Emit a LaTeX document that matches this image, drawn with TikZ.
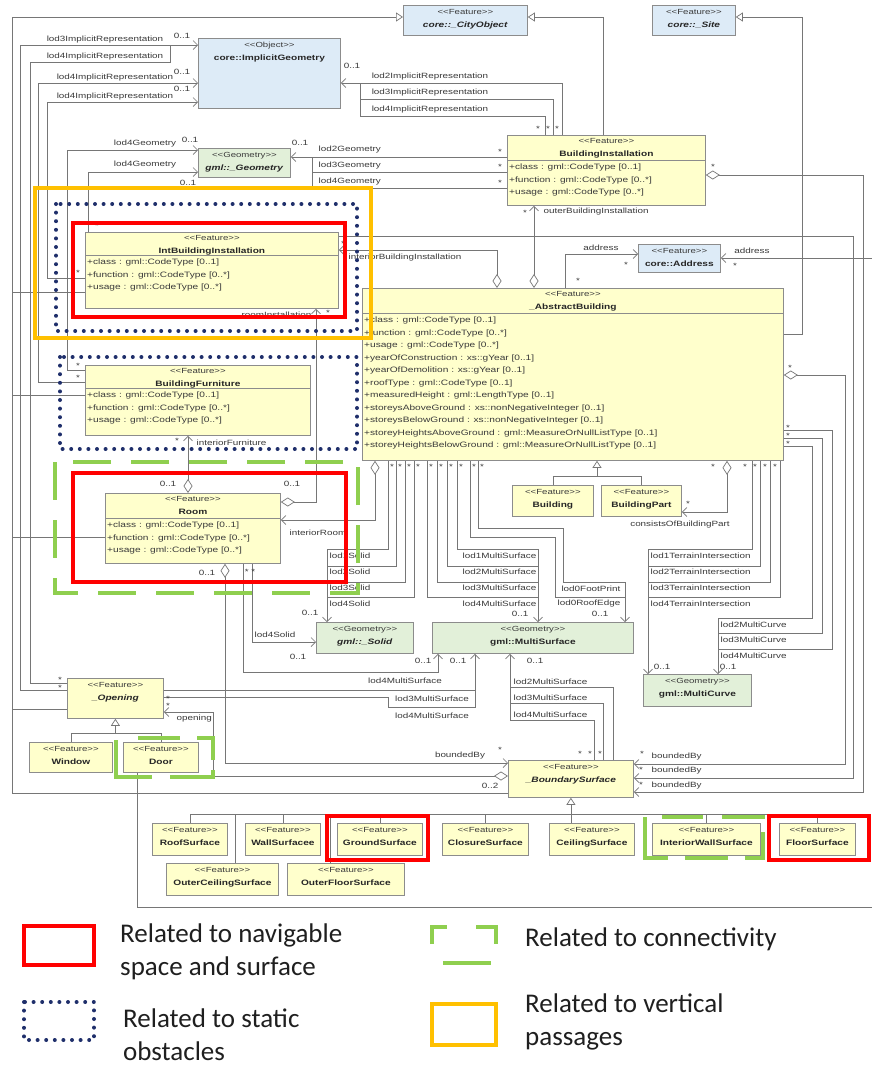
\documentclass[tikz,border=0pt]{standalone}
\usepackage{fontspec}
\setmainfont{Liberation Sans}
\newfontfamily\umlfont[FakeStretch=1.3]{Liberation Sans}
\newfontfamily\legfont{Carlito}
\usetikzlibrary{arrows.meta}
\definecolor{cyel}{HTML}{FFFFCC}
\definecolor{cblue}{HTML}{DDEBF7}
\definecolor{cgreen}{HTML}{E2F0D9}
\definecolor{cbord}{HTML}{8C8C8C}
\definecolor{cline}{HTML}{767676}
\definecolor{ctext}{HTML}{3A3A3A}
\definecolor{hred}{HTML}{FF0000}
\definecolor{hblue}{HTML}{1F2F6B}
\definecolor{hgreen}{HTML}{8FCF4F}
\definecolor{horange}{HTML}{FFC000}
\newcommand\stereo[1]{<\kern0pt<#1>\kern0pt>}
\newcommand\umlsimple[8]{%
  \node[clsbox, fill=#6, minimum width=#4pt, minimum height=#5pt, anchor=north west] (#1) at (#2,#3) {};
  \node[stxt, anchor=base] (#1-s) at ([yshift=-9.5pt]#1.north) {\stereo{#7}};
  \node[ttxt, anchor=base] (#1-t) at ([yshift=-22.5pt]#1.north) {#8};}
\newcommand\umlattr[9]{%
  \node[clsbox, fill=cyel, minimum width=#4pt, minimum height=#5pt, anchor=north west] (#1) at (#2,#3) {};
  \node[stxt, anchor=base] (#1-s) at ([yshift=-8.5pt]#1.north) {\stereo{#6}};
  \node[ttxt, anchor=base] (#1-t) at ([yshift=-21.5pt]#1.north) {#7};
  \draw[draw=cbord, line width=0.8pt] ([yshift=-#8pt]#1.north west) -- ([yshift=-#8pt]#1.north east);
  \node[atxt, anchor=north west] (#1-a) at ([xshift=2pt,yshift=-#8pt-4pt]#1.north west) {#9};}
\tikzset{
  clsbox/.style={draw=cbord, line width=0.8pt, inner sep=0pt, rectangle},
  stxt/.style={font=\umlfont\fontsize{7.4}{8}\selectfont, text=ctext, inner sep=0pt},
  ttxt/.style={font=\umlfont\bfseries\fontsize{7.8}{9}\selectfont, text=black!85, inner sep=0pt},
  atxt/.style={font=\umlfont\fontsize{7.8}{12.5}\selectfont, text=ctext, inner sep=0pt, align=left},
  lbl/.style={font=\umlfont\fontsize{7.6}{9}\selectfont, text=ctext, inner sep=0.5pt},
  conn/.style={draw=cline, line width=0.7pt},
  assoc/.style={conn, -{Straight Barb[length=4.5pt,width=9pt]}},
  gen/.style={conn, -{Triangle[open,length=7pt,width=9pt,fill=white]}},
  agg/.style={conn, {Diamond[open,length=14pt,width=9pt,fill=white]}-{Straight Barb[length=4.5pt,width=9pt]}},
  hlred/.style={draw=hred, line width=4.5pt},
  hlorange/.style={draw=horange, line width=4.5pt},
  hlblue/.style={draw=hblue, line width=4pt, line cap=round, dash pattern=on 0pt off 8.6pt},
  hlgreen/.style={draw=hgreen, line width=4pt, dash pattern=on 38pt off 20pt},
  hgseg/.style={draw=hgreen, line width=4pt},
  legtxt/.style={font=\legfont\fontsize{27}{33}\selectfont, text=black!88, inner sep=0pt, align=left},
}
\begin{document}
\begin{tikzpicture}[x=1pt,y=-1pt]
\useasboundingbox (0,0) rectangle (872,1066);
\fill[white] (0,0) rectangle (872,1066);

% ---------------- classes ----------------
\umlsimple{co}{403}{5}{124}{30}{cblue}{Feature}{\textit{core::\_CityObject}}
\umlsimple{site}{652}{5}{83}{30}{cblue}{Feature}{\textit{core::\_Site}}
\umlsimple{ig}{198}{38}{142}{70}{cblue}{Object}{core::ImplicitGeometry}
\umlsimple{geo}{198}{148}{92}{29}{cgreen}{Geometry}{\textit{gml::\_Geometry}}
\umlsimple{addr}{638}{244}{82}{28}{cblue}{Feature}{core::Address}
\umlsimple{bld}{512}{485}{81}{31}{cyel}{Feature}{Building}
\umlsimple{bp}{601}{485}{80}{31}{cyel}{Feature}{BuildingPart}
\umlsimple{sol}{316}{622}{97}{31}{cgreen}{Geometry}{\textit{gml::\_Solid}}
\umlsimple{ms}{432}{622}{201}{31}{cgreen}{Geometry}{gml::MultiSurface}
\umlsimple{mc}{643}{674}{108}{32}{cgreen}{Geometry}{gml::MultiCurve}
\umlsimple{op}{67}{678}{96}{40}{cyel}{Feature}{\textit{\_Opening}}
\umlsimple{win}{29}{742}{83}{30}{cyel}{Feature}{Window}
\umlsimple{door}{123}{742}{75}{30}{cyel}{Feature}{Door}
\umlsimple{bs}{508}{760}{125}{37}{cyel}{Feature}{\textit{\_BoundarySurface}}
\umlsimple{roof}{152}{823}{75}{32}{cyel}{Feature}{RoofSurface}
\umlsimple{wall}{245}{823}{75}{32}{cyel}{Feature}{WallSurfacee}
\umlsimple{ground}{337}{823}{85}{32}{cyel}{Feature}{GroundSurface}
\umlsimple{clos}{442}{823}{86}{32}{cyel}{Feature}{ClosureSurface}
\umlsimple{ceil}{549}{823}{85}{32}{cyel}{Feature}{CeilingSurface}
\umlsimple{iws}{652}{823}{108}{32}{cyel}{Feature}{InteriorWallSurface}
\umlsimple{floor}{779}{823}{76}{32}{cyel}{Feature}{FloorSurface}
\umlsimple{ocs}{166}{863}{112}{32}{cyel}{Feature}{OuterCeilingSurface}
\umlsimple{ofs}{287}{863}{117}{32}{cyel}{Feature}{OuterFloorSurface}

\umlattr{bi}{507}{135}{198}{70}{Feature}{BuildingInstallation}{25}{+class : gml::CodeType [0..1]\\+function : gml::CodeType [0..*]\\+usage : gml::CodeType [0..*]}
\umlattr{ibi}{85}{232}{253}{76}{Feature}{IntBuildingInstallation}{23}{+class : gml::CodeType [0..1]\\+function : gml::CodeType [0..*]\\+usage : gml::CodeType [0..*]}
\umlattr{bf}{85}{365}{225}{70}{Feature}{BuildingFurniture}{23}{+class : gml::CodeType [0..1]\\+function : gml::CodeType [0..*]\\+usage : gml::CodeType [0..*]}
\umlattr{room}{105}{493}{175}{70}{Feature}{Room}{25}{+class : gml::CodeType [0..1]\\+function : gml::CodeType [0..*]\\+usage : gml::CodeType [0..*]}
\umlattr{ab}{362}{288}{421}{172}{Feature}{\_AbstractBuilding}{25}{\fontsize{7.8}{12.1}\selectfont
+class : gml::CodeType [0..1]\\+function : gml::CodeType [0..*]\\+usage : gml::CodeType [0..*]\\
+yearOfConstruction : xs::gYear [0..1]\\+yearOfDemolition : xs::gYear [0..1]\\
+roofType : gml::CodeType [0..1]\\+measuredHeight : gml::LengthType [0..1]\\
+storeysAboveGround : xs::nonNegativeInteger [0..1]\\+storeysBelowGround : xs::nonNegativeInteger [0..1]\\
+storeyHeightsAboveGround : gml::MeasureOrNullListType [0..1]\\+storeyHeightsBelowGround : gml::MeasureOrNullListType [0..1]}

\coordinate (addrext) at (872,258);
\coordinate (doorext) at (872,907);

% ---------------- generalizations ----------------
\draw[gen] (bs.west |- 0,793) -- (12,793) -- (12,17) -- (co.west |- 0,17);
\draw[conn] (ibi.west |- 0,292) -- (12,292);
\draw[conn] (bf.west |- 0,395) -- (12,395);
\draw[conn] (room.west |- 0,537) -- (12,537);
\draw[conn] (op.west |- 0,709) -- (12,709);
\draw[gen] (bi.north -| 603,0) -- (603,17) -- (co.east |- 0,17);
\draw[gen] (ab.east |- 0,334) -- (802,334) -- (802,17) -- (site.east |- 0,17);
\draw[conn] (bld.north) |- (bp.north |- 0,476) -- (bp.north);
\draw[gen] (bld.north |- 0,476) -| (ab.south -| 597,0);
\draw[conn] (win.north) |- (door.north |- 0,733) -- (door.north);
\draw[gen] (win.north |- 0,733) -| (op.south);
\draw[conn] (roof.north) |- (floor.north |- 0,814) -- (floor.north);
\foreach \n in {wall,ground,clos,iws} \draw[conn] (\n.north) -- (\n.north |- 0,814);
\draw[gen] (ceil.north -| bs.south) -- (bs.south);
\draw[conn] (ocs.north -| 235,0) -- (235,814);
\draw[conn] (ofs.north -| 330,0) -- (330,814);

% ---------------- implicit geometry ----------------
\draw[assoc] (op.west |- 0,690) -- (20,690) -- (20,45) -- (ig.west |- 0,45);
\draw[conn] (op.west |- 0,683) -- (30,683) -- (30,62) -- (170,62) -- (170,45);
\draw[assoc] (bf.west |- 0,382) -- (38,382) -- (38,83) -- (ig.west |- 0,83);
\draw[assoc] (ibi.west |- 0,278) -- (47,278) -- (47,102) -- (ig.west |- 0,102);
\draw[assoc] (bi.north -| 562,0) -- (562,83) -- (ig.east |- 0,83);
\draw[conn] (bi.north -| 553,0) -- (553,99) -- (360,99) -- (360,83);
\draw[conn] (bi.north -| 545,0) -- (545,116) -- (360,116) -- (360,99);

% ---------------- geometry ----------------
\draw[assoc] (bf.west |- 0,370) -- (67,370) -- (67,150) -- (geo.west |- 0,150);
\draw[assoc] (ibi.north -| 88,0) -- (88,172) -- (geo.west |- 0,172);
\draw[assoc] (bi.west |- 0,157) -- (geo.east |- 0,157);
\draw[conn] (bi.west |- 0,172) -- (312,172) -- (312,157);
\draw[conn] (bi.west |- 0,188) -- (312,188) -- (312,172);

% ---------------- installations, address ----------------
\draw[agg] (ab.north -| 534,0) -- (bi.south -| 534,0);
\draw[agg] (ab.north -| 497,0) -- (497,250) -- (ibi.east |- 0,250);
\draw[assoc] (ab.north -| 565,0) -- (565,254) -- (addr.west |- 0,254);
\draw[assoc] (addrext) -- (addr.east |- 0,258);

% ---------------- boundedBy (right) ----------------
\draw[agg] (ab.east |- 0,375) -- (845,375) -- (845,764) -- (bs.east |- 0,764);
\draw[assoc] (ibi.east |- 0,236) -- (853,236) -- (853,778) -- (bs.east |- 0,778);
\draw[agg] (bi.east |- 0,175) -- (863,175) -- (863,792) -- (bs.east |- 0,792);

% ---------------- room ----------------
\draw[agg] (room.north -| 188,0) -- (bf.south -| 188,0);
\draw[agg] (room.east |- 0,502) -- (316,502) -- (ibi.south -| 316,0);
\draw[agg] (ab.south -| 375,0) -- (375,520) -- (room.east |- 0,520);
\draw[agg] (room.south -| 225,0) -- (225,763) -- (bs.west |- 0,763);
\draw[assoc] (room.south -| 252,0) -- (252,642) -- (sol.west |- 0,642);
\draw[assoc] (room.south -| 243,0) -- (243,672) -- (438,672) -- (ms.south -| 438,0);

% ---------------- opening ----------------
\draw[assoc] (op.east |- 0,690) -- (475,690) -- (ms.south -| 475,0);
\draw[conn] (op.east |- 0,697) -- (388,697) -- (388,707) -- (475,707) -- (475,690);
\draw[agg] (bs.west |- 0,776) -- (213,776) -- (213,712) -- (op.east |- 0,712);
\draw[conn] (door.south -| 137,0) |- (doorext);

% ---------------- abstract building geometry ----------------
\draw[assoc] (ab.south -| 388,0) |- (327,549) -- (sol.north -| 327,0);
\foreach \x/\y in {396/566,405/582,414/597} \draw[conn] (ab.south -| \x,0) |- (327,\y);
\draw[assoc] (ab.south -| 457,0) |- (538,549) -- (ms.north -| 538,0);
\foreach \x/\y in {447/566,437/582,427/597} \draw[conn] (ab.south -| \x,0) |- (538,\y);
\draw[assoc] (ab.south -| 478,0) |- (563,528) |- (625,582) -- (ms.north -| 625,0);
\draw[conn] (ab.south -| 470,0) |- (555,537) |- (625,597);
\draw[assoc] (ab.south -| 752,0) |- (648,549) -- (mc.north -| 648,0);
\foreach \x/\y in {760/566,770/582,780/597} \draw[conn] (ab.south -| \x,0) |- (648,\y);
\draw[assoc] (ab.east |- 0,446) -| (812,618) -| (mc.north -| 718,0);
\draw[conn] (ab.east |- 0,438) -| (822,633) -- (718,633);
\draw[conn] (ab.east |- 0,430) -| (832,649) -- (718,649);
\draw[agg] (ab.south -| 727,0) |- (bp.east |- 0,512);

% ---------------- boundary surface multisurface ----------------
\draw[assoc] (bs.north -| 594,0) |- (510,720) -- (ms.south -| 510,0);
\draw[conn] (bs.north -| 603,0) |- (510,703);
\draw[conn] (bs.north -| 613,0) |- (510,687);

% ---------------- labels ----------------
\node[lbl] (l1) at (105,40) {lod3ImplicitRepresentation};
\node[lbl] (l2) at (105,57) {lod4ImplicitRepresentation};
\node[lbl] (l3) at (115,78) {lod4ImplicitRepresentation};
\node[lbl] (l4) at (115,97) {lod4ImplicitRepresentation};
\node[lbl] (l5) at (430,77) {lod2ImplicitRepresentation};
\node[lbl] (l6) at (430,93) {lod3ImplicitRepresentation};
\node[lbl] (l7) at (430,110) {lod4ImplicitRepresentation};
\node[lbl] (l8) at (145,144) {lod4Geometry};
\node[lbl] (l9) at (145,165) {lod4Geometry};
\node[lbl,anchor=west] (l10) at (318,150) {lod2Geometry};
\node[lbl,anchor=west] (l11) at (318,166) {lod3Geometry};
\node[lbl,anchor=west] (l12) at (318,182) {lod4Geometry};
\node[lbl,anchor=west] (l13) at (543,212) {outerBuildingInstallation};
\node[lbl,anchor=west] (l14) at (348,258) {interiorBuildingInstallation};
\node[lbl] (l15) at (601,248) {address};
\node[lbl] (l16) at (752,251) {address};
\node[lbl,anchor=east] (l17) at (312,315) {roomInstallation};
\node[lbl,anchor=west] (l18) at (196,443) {interiorFurniture};
\node[lbl] (l19) at (318,533) {interiorRoom};
\foreach \t/\y [count=\i] in {lod1Solid/556,lod2Solid/572,lod3Solid/588,lod4Solid/604}
  \node[lbl,anchor=west] (ls\i) at (329,\y) {\t};
\foreach \t/\y [count=\i] in {lod1MultiSurface/556,lod2MultiSurface/572,lod3MultiSurface/588,lod4MultiSurface/604}
  \node[lbl,anchor=east] (lm\i) at (537,\y) {\t};
\foreach \t/\y [count=\i] in {lod1TerrainIntersection/556,lod2TerrainIntersection/572,lod3TerrainIntersection/588,lod4TerrainIntersection/604}
  \node[lbl,anchor=west] (lt\i) at (650,\y) {\t};
\node[lbl,anchor=east] (l20) at (621,589) {lod0FootPrint};
\node[lbl,anchor=east] (l21) at (621,604) {lod0RoofEdge};
\node[lbl] (l22) at (680,525) {consistsOfBuildingPart};
\foreach \t/\y [count=\i] in {lod2MultiCurve/625,lod3MultiCurve/640,lod4MultiCurve/656}
  \node[lbl,anchor=west] (lc\i) at (720,\y) {\t};
\node[lbl] (l23) at (275,635) {lod4Solid};
\node[lbl] (l24) at (405,681) {lod4MultiSurface};
\node[lbl] (l25) at (432,699) {lod3MultiSurface};
\node[lbl] (l26) at (432,716) {lod4MultiSurface};
\foreach \t/\y [count=\i] in {lod2MultiSurface/682,lod3MultiSurface/698,lod4MultiSurface/715}
  \node[lbl,anchor=west] (lb\i) at (513,\y) {\t};
\node[lbl,anchor=west] (l27) at (176,719) {opening};
\node[lbl] (l28) at (460,756) {boundedBy};
\foreach \y [count=\i] in {757,771,786}
  \node[lbl,anchor=west] (lr\i) at (651,\y) {boundedBy};

% multiplicities
\foreach \x/\y [count=\i] in {182/36,182/72,182/89,352/66,190/140,188/183,300/143,168/484,292/484,207/573,310/613,298/657,520/614,600/614,423/661,458/661,535/661,662/667,728/667}
  \node[lbl] (mu\i) at (\x,\y) {0..1};
\node[lbl] (mu20) at (490,786) {0..2};
\node[lbl] (mu21) at (250,572) {* *};
\foreach \x/\y [count=\i] in {538/129,548/129,557/129,500/152,500/167,500/183,525/213,343/244,578/281,626/265,735/266,713/167,790/368,788/428,788/436,788/444,97/226,78/273,78/366,78/378,60/680,60/688,168/699,168/706,177/441,328/313,688/504,713/467,500/750,642/754,641/770,641/785,580/754,590/754,600/754,392/467,400/467,409/467,418/467,431/467,441/467,451/467,461/467,474/467,482/467,745/467,755/467,765/467,775/467}
  \node[lbl] (sm\i) at (\x,\y) {*};

% ---------------- highlight boxes ----------------
\draw[hlorange] (35,188) rectangle (371,338);
\draw[hlblue] (56,204) rectangle (357,331);
\draw[hlred] (73,223) rectangle (345,317);
\draw[hlblue] (60,357) rectangle (357,449);
\draw[hlgreen] (55,462) rectangle (358,593);
\draw[hlred] (73,473) rectangle (346,582);
\draw[hgseg] (116,740) -- (116,777) -- (152,777);
\draw[hgseg] (138,738) -- (180,738);
\draw[hgseg] (197,738) -- (213,738) -- (213,760);
\draw[hgseg] (213,770) -- (213,777) -- (170,777);
\draw[hlred] (327,816) rectangle (428,860);
\draw[hgseg] (645,817) -- (645,858) -- (668,858);
\draw[hgseg] (662,817) -- (703,817);
\draw[hgseg] (722,817) -- (765,817);
\draw[hgseg] (763,832) -- (763,858) -- (745,858);
\draw[hgseg] (685,858) -- (728,858);
\draw[hlred] (769,816) rectangle (869,860);

% ---------------- legend ----------------
\draw[hlred] (24,926) rectangle (94,965);
\node[legtxt, anchor=north west] (lg1) at (120,924) {Related to navigable\\space and surface};
\draw[hlblue] (24,1002) rectangle (94,1040);
\node[legtxt, anchor=north west] (lg2) at (123,1009) {Related to static\\obstacles};
\draw[hgseg] (432,944) -- (432,927) -- (447,927);
\draw[hgseg] (476,927) -- (496,927) -- (496,944);
\draw[hgseg] (443,963) -- (491,963);
\node[legtxt, anchor=north west] (lg3) at (525,928) {Related to connectivity};
\draw[hlorange] (432,1004) rectangle (496,1045);
\node[legtxt, anchor=north west] (lg4) at (525,994) {Related to vertical\\passages};
\end{tikzpicture}
\end{document}
